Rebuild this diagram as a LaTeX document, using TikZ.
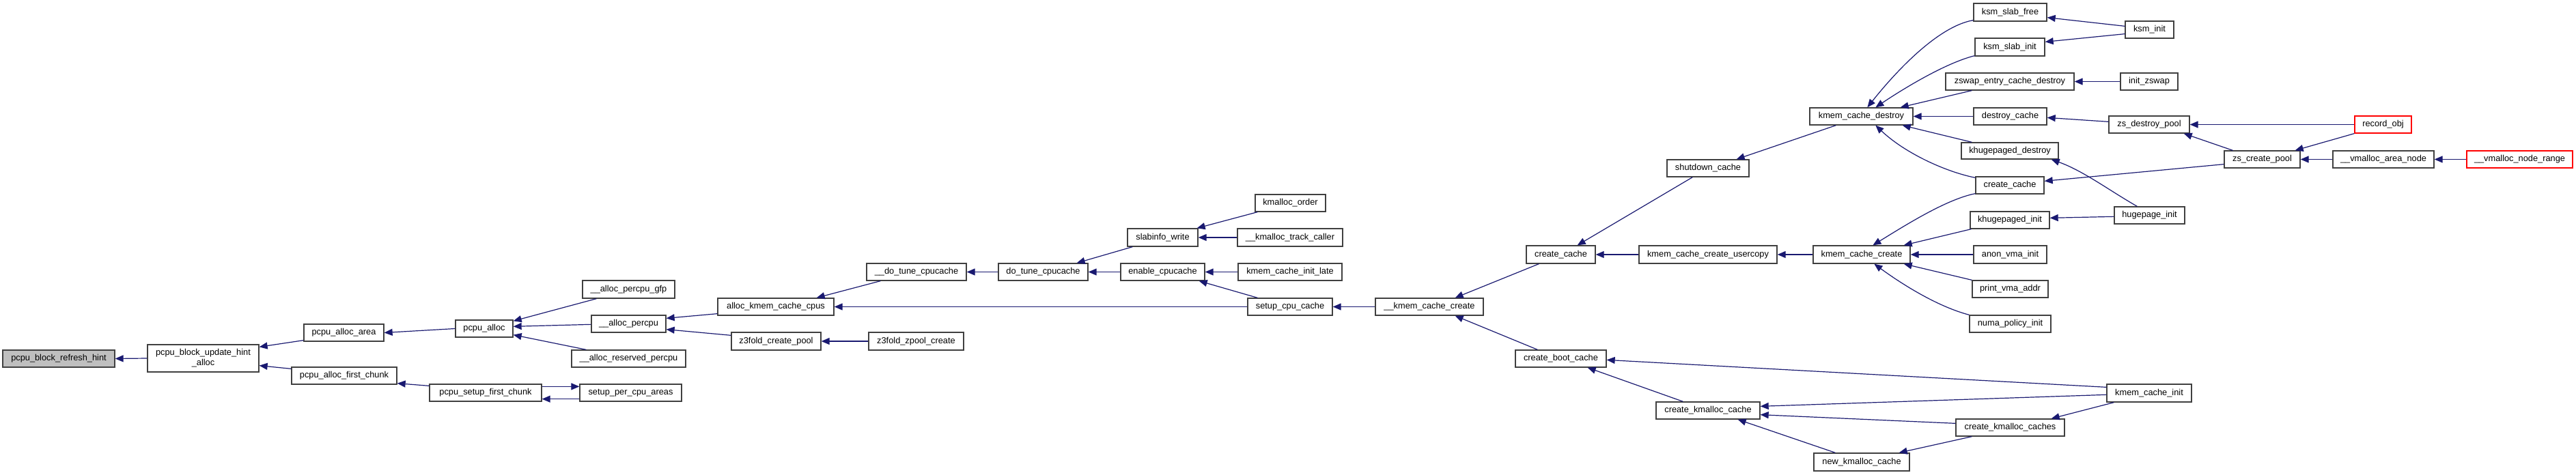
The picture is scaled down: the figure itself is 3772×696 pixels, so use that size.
\documentclass[tikz,border=0pt]{standalone}
\usepackage{fontspec}
\setmainfont{Liberation Sans}
\usetikzlibrary{arrows.meta}
\definecolor{ec}{HTML}{191970}
\definecolor{bc}{HTML}{404040}
\definecolor{gf}{HTML}{BFBFBF}
\newcommand{\gnode}[7][]{\node[box,#1,minimum width={(#4-#2)*1pt},minimum height={(#5-#3)*1pt}] (#6) at ({(#2+#4)/2},{(#3+#5)/2}) {#7};}
\tikzset{
  box/.style={draw=bc, line width=1.3pt, fill=white, inner sep=0pt, text=black, align=center,
    font=\fontsize{12.8pt}{15pt}\selectfont},
  redbox/.style={draw=red},
  e/.style={draw=ec, line width=1.2pt, {Triangle[length=12pt,width=10pt]}-}
}
\begin{document}
\begin{tikzpicture}[x=1pt,y=-1pt]
\useasboundingbox (0,0) rectangle (3772,696);
% nodes
\gnode[fill=gf]{4}{513}{168}{538}{N1}{pcpu\_block\_refresh\_hint}
\gnode{216}{505}{379}{545}{N2}{pcpu\_block\_update\_hint\\\_alloc}
\gnode{445}{475}{562}{500}{N3}{pcpu\_alloc\_area}
\gnode{427}{538}{581}{563}{N4}{pcpu\_alloc\_first\_chunk}
\gnode{667}{469}{751}{494}{N5}{pcpu\_alloc}
\gnode{629}{563}{793}{588}{N6}{pcpu\_setup\_first\_chunk}
\gnode{853}{411}{988}{437}{N7}{\_\_alloc\_percpu\_gfp}
\gnode{866}{462}{975}{487}{N8}{\_\_alloc\_percpu}
\gnode{837}{513}{1004}{538}{N9}{\_\_alloc\_reserved\_percpu}
\gnode{849}{563}{998}{588}{N10}{setup\_per\_cpu\_areas}
\gnode{1051}{437}{1221}{462}{N11}{alloc\_kmem\_cache\_cpus}
\gnode{1071}{487}{1202}{513}{N12}{z3fold\_create\_pool}
\gnode{1269}{386}{1415}{411}{N13}{\_\_do\_tune\_cpucache}
\gnode{1272}{487}{1411}{513}{N14}{z3fold\_zpool\_create}
\gnode{1462}{386}{1593}{411}{N15}{do\_tune\_cpucache}
\gnode{1651}{335}{1754}{361}{N16}{slabinfo\_write}
\gnode{1641}{386}{1764}{411}{N17}{enable\_cpucache}
\gnode{1838}{285}{1941}{310}{N18}{kmalloc\_order}
\gnode{1812}{335}{1966}{361}{N19}{\_\_kmalloc\_track\_caller}
\gnode{1813}{386}{1965}{411}{N20}{kmem\_cache\_init\_late}
\gnode{1827}{437}{1951}{462}{N21}{setup\_cpu\_cache}
\gnode{2014}{437}{2172}{462}{N22}{\_\_kmem\_cache\_create}
\gnode{2235}{360}{2336}{386}{N23}{create\_cache}
\gnode{2219}{513}{2352}{538}{N24}{create\_boot\_cache}
\gnode{2441}{234}{2561}{259}{N25}{shutdown\_cache}
\gnode{2400}{360}{2602}{386}{N26}{kmem\_cache\_create\_usercopy}
\gnode{2425}{589}{2577}{614}{N27}{create\_kmalloc\_cache}
\gnode{2650}{158}{2801}{183}{N28}{kmem\_cache\_destroy}
\gnode{2655}{360}{2797}{386}{N29}{kmem\_cache\_create}
\gnode{2656}{664}{2796}{690}{N30}{new\_kmalloc\_cache}
\gnode{2890}{5}{2997}{31}{N31}{ksm\_slab\_free}
\gnode{2892}{56}{2994}{82}{N32}{ksm\_slab\_init}
\gnode{2849}{107}{3037}{132}{N33}{zswap\_entry\_cache\_destroy}
\gnode{2890}{158}{2997}{183}{N34}{destroy\_cache}
\gnode{2872}{209}{3014}{233}{N35}{khugepaged\_destroy}
\gnode{2893}{259}{2993}{284}{N36}{create\_cache}
\gnode{2885}{310}{3001}{335}{N37}{khugepaged\_init}
\gnode{2890}{360}{2997}{386}{N38}{anon\_vma\_init}
\gnode{2888}{411}{2999}{436}{N39}{print\_vma\_addr}
\gnode{2884}{462}{3003}{487}{N40}{numa\_policy\_init}
\gnode{2864}{614}{3023}{639}{N41}{create\_kmalloc\_caches}
\gnode{3112}{31}{3183}{56}{N42}{ksm\_init}
\gnode{3105}{107}{3189}{132}{N43}{init\_zswap}
\gnode{3088}{170}{3206}{195}{N44}{zs\_destroy\_pool}
\gnode{3096}{303}{3199}{328}{N45}{hugepage\_init}
\gnode{3085}{563}{3209}{589}{N46}{kmem\_cache\_init}
\gnode[redbox]{3448}{170}{3531}{195}{N47}{record\_obj}
\gnode{3257}{221}{3368}{246}{N48}{zs\_create\_pool}
\gnode{3416}{221}{3564}{246}{N49}{\_\_vmalloc\_area\_node}
\gnode[redbox]{3612}{221}{3767}{246}{N50}{\_\_vmalloc\_node\_range}
% edges (arrow at callee)
\draw[e] (N1.east) -- (N2.west);
\draw[e] ([yshift=-4pt]N2.north east) -- ([yshift=2pt]N3.south west);
\draw[e] ([yshift=10pt]N2.south east) -- ([yshift=-3pt]N4.north west);
\draw[e] (N3.east) -- (N5.west);
\draw[e] ([yshift=2pt]N4.south east) -- ([yshift=-3pt]N6.north west);
\draw[e] ([yshift=-2pt]N5.north east) -- ([xshift=21pt]N7.south west);
\draw[e] ([yshift=-10pt]N5.north east) -- ([yshift=-14pt]N8.north west);
\draw[e] ([yshift=4pt]N5.south east) -- ([xshift=22pt]N9.north west);
\draw[e] ([yshift=-4pt]N10.north west) -- ([yshift=-4pt]N6.north east);
\draw[e] ([yshift=4pt]N6.south east) -- ([yshift=4pt]N10.south west);
\draw[e] ([yshift=-5pt]N8.north east) -- ([yshift=3pt]N11.south west);
\draw[e] ([yshift=5pt]N8.south east) -- ([yshift=-5pt]N12.north west);
\draw[e] ([xshift=-26pt]N11.north east) -- ([xshift=21pt]N13.south west);
\draw[e] (N11.east) -- (N21.west);
\draw[e] (N12.east) -- (N14.west);
\draw[e] (N13.east) -- (N15.west);
\draw[e] ([xshift=-17pt]N15.north east) -- ([xshift=8pt]N16.south west);
\draw[e] (N15.east) -- (N17.west);
\draw[e] ([xshift=-2pt]N16.north east) -- ([xshift=4pt]N18.south west);
\draw[e] (N16.east) -- (N19.west);
\draw[e] (N17.east) -- (N20.west);
\draw[e] ([xshift=-9pt]N17.south east) -- ([xshift=15pt]N21.north west);
\draw[e] (N21.east) -- (N22.west);
\draw[e] ([xshift=-42pt]N22.north east) -- ([xshift=19pt]N23.south west);
\draw[e] ([xshift=-42pt]N22.south east) -- ([xshift=33pt]N24.north west);
\draw[e] ([xshift=-27pt]N23.north east) -- ([xshift=38pt]N25.south west);
\draw[e] (N23.east) -- (N26.west);
\draw[e] ([xshift=-19pt]N25.north east) -- ([xshift=39pt]N28.south west);
\draw[e] (N26.east) -- (N29.west);
\draw[e] ([yshift=-15pt]N24.north east) -- ([yshift=-5pt]N46.north west);
\draw[e] ([xshift=-28pt]N24.south east) -- ([xshift=40pt]N27.north west);
\draw[e] ([yshift=-7pt]N27.north east) -- ([yshift=-16pt]N46.north west);
\draw[e] ([yshift=7pt]N27.south east) -- ([yshift=-7pt]N41.north west);
\draw[e] ([xshift=-33pt]N27.south east) -- ([xshift=32pt]N30.north west);
\draw[e] ([xshift=-16pt]N30.north east) -- ([xshift=24pt]N41.south west);
\draw[e] ([xshift=-20pt]N41.north east) -- ([xshift=11pt]N46.south west);
\draw[e] ([xshift=85pt]N28.north west) .. controls (2760,125) and (2830,40) .. ([yshift=2pt]N31.south west);
\draw[e] ([xshift=97pt]N28.north west) .. controls (2790,128) and (2850,92) .. ([yshift=1pt]N32.south west);
\draw[e] ([xshift=-19pt]N28.north east) -- ([xshift=39pt]N33.south west);
\draw[e] (N28.east) -- (N34.west);
\draw[e] ([xshift=-16pt]N28.south east) -- ([xshift=16pt]N35.north west);
\draw[e] ([xshift=97pt]N28.south west) .. controls (2790,225) and (2850,252) .. ([yshift=-2pt]N36.north west);
\draw[e] ([xshift=88pt]N29.north west) .. controls (2790,330) and (2850,292) .. ([yshift=1pt]N36.south west);
\draw[e] ([xshift=-10pt]N29.north east) -- ([xshift=2pt]N37.south west);
\draw[e] (N29.east) -- (N38.west);
\draw[e] ([xshift=-10pt]N29.south east) -- (N39.north west);
\draw[e] ([xshift=90pt]N29.south west) .. controls (2790,420) and (2840,450) .. (N40.north west);
\draw[e] ([yshift=6pt]N31.south east) -- ([yshift=-8pt]N42.north west);
\draw[e] ([yshift=-6pt]N32.north east) -- ([yshift=7pt]N42.south west);
\draw[e] (N33.east) -- (N43.west);
\draw[e] ([yshift=-15pt]N34.north east) -- ([yshift=-9pt]N44.north west);
\draw[e] ([xshift=-11pt]N35.south east) .. controls (3050,250) and (3090,280) .. ([xshift=34pt]N45.north west);
\draw[e] ([yshift=-7pt]N36.north east) -- ([yshift=6pt]N48.south west);
\draw[e] ([yshift=-10pt]N37.north east) -- ([yshift=-15pt]N45.north west);
\draw[e] (N44.east) -- (N47.west);
\draw[e] ([xshift=-9pt]N44.south east) -- ([xshift=13pt]N48.north west);
\draw[e] ([xshift=-8pt]N48.north east) -- (N47.south west);
\draw[e] (N48.east) -- (N49.west);
\draw[e] (N49.east) -- (N50.west);
\end{tikzpicture}
\end{document}
